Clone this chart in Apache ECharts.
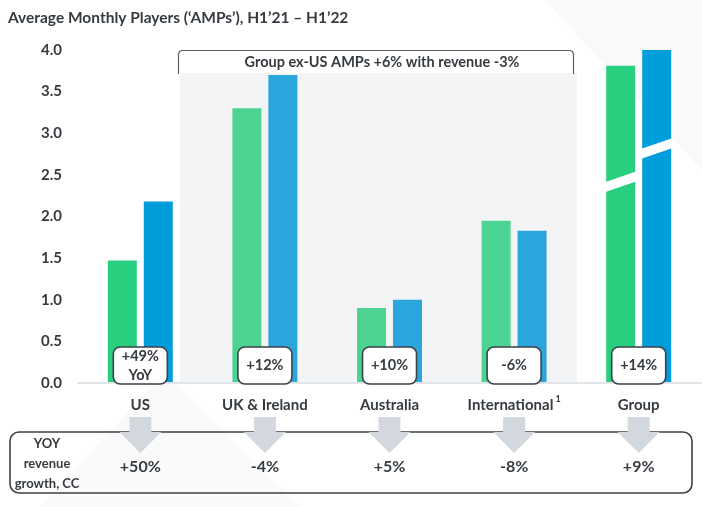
<!DOCTYPE html>
<html><head><meta charset="utf-8">
<script src="https://cdn.jsdelivr.net/npm/echarts@6/dist/echarts.min.js"></script>
<style>html,body{margin:0;padding:0;background:#fff}#c{width:702px;height:507px}</style>
</head><body><div id="c"></div>
<script>
// ---- data ----
const categories = ['US', 'UK & Ireland', 'Australia', 'International', 'Group'];
const h121 = [1.47, 3.30, 0.90, 1.95, 3.81];
const h122 = [2.18, 3.70, 1.00, 1.83, 4.00];
const ampGrowth = ['+49%\nYoY', '+12%', '+10%', '-6%', '+14%'];
const revenueGrowth = ['+50%', '-4%', '+5%', '-8%', '+9%'];
const yTickLabels = ['0.0', '0.5', '1.0', '1.5', '2.0', '2.5', '3.0', '3.5', '4.0'];
const groupBreak = [2.40, 2.80]; // axis-break position on Group bars (H1'21, H1'22)
const titleText = 'Average Monthly Players (\u2018AMPs\u2019), H1\u201921 \u2013 H1\u201922';
const bracketText = 'Group ex-US AMPs +6% with revenue -3%';
const revenueHeader = 'YOY\nrevenue\ngrowth, CC';

// ---- styles ----
const FONT = 'Lato, "Open Sans", sans-serif';
const TXT = '#363b40';
const greenStrong = '#28cf7e', greenSoft = '#4cd392';
const blueStrong = '#009ddd', blueSoft = '#2ba6dc';
const inPanel = i => i >= 1 && i <= 3;

const chart = echarts.init(document.getElementById('c'), null, {renderer: 'canvas'});

const option = {
  animation: false,
  backgroundColor: '#ffffff',
  grid: {left: 78, right: 1, top: 50, bottom: 124},
  xAxis: {
    type: 'category',
    data: categories,
    axisTick: {show: false},
    axisLine: {lineStyle: {color: '#e1e4e8', width: 2}},
    axisLabel: {
      interval: 0, hideOverlap: false,
      margin: 12,
      fontSize: 15, fontWeight: 'bold', color: TXT, fontFamily: FONT, lineHeight: 20,
      formatter: v => v === 'International' ? '{m|' + v + '}{sup|1}' : '{m|' + v + '}',
      rich: {
        m: {fontSize: 15, fontWeight: 'bold', color: TXT, fontFamily: FONT, lineHeight: 20},
        sup: {fontSize: 9, fontWeight: 'bold', color: TXT, fontFamily: FONT, lineHeight: 8, verticalAlign: 'top', padding: [0, 0, 0, 2]}
      }
    },
    z: 3
  },
  yAxis: {
    type: 'value', min: 0, max: 4, interval: 0.5,
    splitLine: {show: false},
    axisLine: {show: false}, axisTick: {show: false},
    axisLabel: {
      margin: 16, fontSize: 15, fontWeight: 'bold', color: TXT, fontFamily: FONT,
      formatter: v => yTickLabels[Math.round(v / 0.5)]
    }
  },
  series: [
    {
      type: 'bar', name: "H1'21", data: h121, barWidth: 29, barGap: '24%',
      itemStyle: {color: p => inPanel(p.dataIndex) ? greenSoft : greenStrong}
    },
    {
      type: 'bar', name: "H1'22", data: h122, barWidth: 29,
      itemStyle: {color: p => inPanel(p.dataIndex) ? blueSoft : blueStrong}
    },
    { // break stripes on Group bars
      type: 'custom', z: 5, clip: false, silent: true,
      data: [[4, groupBreak[0], groupBreak[1]]],
      renderItem: (params, api) => {
        const g = api.coord([api.value(0), api.value(1)]);
        const b = api.coord([api.value(0), api.value(2)]);
        const cx = g[0];
        const stripe = (x0, x1, yc) => ({
          type: 'polygon',
          shape: {points: [[x0, yc + 1], [x1, yc - 10], [x1, yc - 0], [x0, yc + 11]]},
          style: {fill: '#ffffff'}
        });
        return {type: 'group', children: [
          stripe(cx - 34, cx - 2, g[1] - 2),
          stripe(cx + 2, cx + 34, b[1] - 2)
        ]};
      }
    },
    { // YoY AMP growth boxes, arrows and revenue growth
      type: 'custom', z: 10, clip: false, silent: true,
      data: categories.map((c, i) => [i, 0]),
      renderItem: (params, api) => {
        const i = params.dataIndex;
        const p = api.coord([api.value(0), 0]);
        const cx = p[0], y0 = p[1];
        return {type: 'group', children: [
          {type: 'rect', shape: {x: cx - 27, y: y0 - 36, width: 54, height: 37, r: 7},
           style: {fill: '#ffffff', stroke: '#3c4248', lineWidth: 1.6}},
          {type: 'text', style: {text: ampGrowth[i], x: cx, y: y0 - 17.5, align: 'center', verticalAlign: 'middle',
            font: 'bold 14.5px ' + FONT, fill: TXT, lineHeight: 19}},
          {type: 'polygon', shape: {points: [
            [cx - 11, y0 + 34], [cx + 11, y0 + 34], [cx + 11, y0 + 49], [cx + 21, y0 + 49],
            [cx, y0 + 70], [cx - 21, y0 + 49], [cx - 11, y0 + 49]]},
           style: {fill: '#d3d8de'}},
          {type: 'text', style: {text: revenueGrowth[i], x: cx, y: y0 + 84, align: 'center', verticalAlign: 'middle',
            font: 'bold 16px ' + FONT, fill: TXT}}
        ]};
      }
    }
  ],
  graphic: [
    {type: 'polygon', z: -20, silent: true, shape: {points: [[545, 0], [702, 0], [702, 170]]}, style: {fill: '#f9f9fa'}},
    {type: 'polygon', z: -20, silent: true, shape: {points: [[40, 507], [165, 372], [300, 507]]}, style: {fill: '#fafafb'}},
    {type: 'rect', z: -10, silent: true, shape: {x: 180, y: 73, width: 397, height: 310}, style: {fill: '#f3f4f6'}},
    {type: 'polyline', z: 1, silent: true,
     shape: {points: [[178.5, 74], [178.5, 54], [179.5, 51.5], [182, 50.5], [570, 50.5], [572.5, 51.5], [573.5, 54], [573.5, 74]]},
     style: {fill: null, stroke: '#5a6066', lineWidth: 1.2}},
    {type: 'text', z: 1, silent: true,
     style: {text: bracketText, x: 382, y: 62, align: 'center', verticalAlign: 'middle', font: 'bold 14.5px ' + FONT, fill: TXT}},
    {type: 'text', z: 1, silent: true,
     style: {text: titleText, x: 8, y: 18, align: 'left', verticalAlign: 'middle', font: 'bold 15.5px ' + FONT, fill: TXT}},
    {type: 'rect', z: 1, silent: true, shape: {x: 10, y: 432, width: 682, height: 61, r: 9},
     style: {fill: 'rgba(255,255,255,0)', stroke: '#3c4248', lineWidth: 1.6}},
    {type: 'text', z: 1, silent: true,
     style: {text: revenueHeader, x: 47, y: 464, align: 'center', verticalAlign: 'middle', font: 'bold 13px ' + FONT, fill: TXT, lineHeight: 20}}
  ]
};
chart.setOption(option);
</script>
</body></html>
